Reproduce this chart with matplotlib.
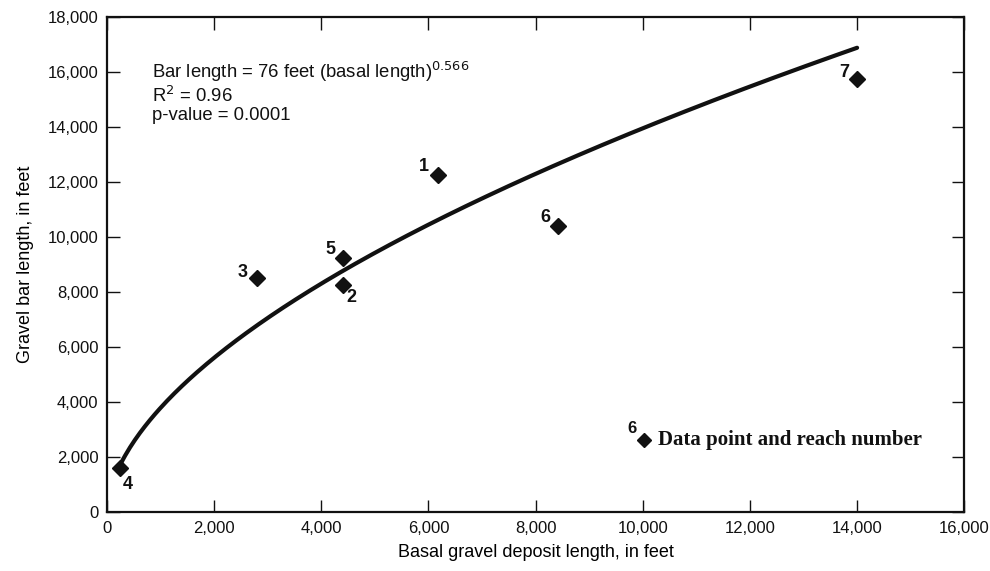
import numpy as np
import matplotlib.pyplot as plt
from matplotlib.ticker import FuncFormatter

# reach data points
reach = ['4', '3', '5', '2', '1', '6', '7']
basal_len = [240, 2800, 4400, 4400, 6180, 8420, 14000]
bar_len = [1620, 8530, 9230, 8260, 12270, 10420, 15750]
# label offsets in points
lab_dx = [6, -10, -9, 6, -10, -9, -9]
lab_dy = [-12, 4, 6, -9, 6, 6, 5]

# fitted power law, from the equation on the chart
coef = 76
expo = 0.566
x_fit = np.linspace(200, 14000, 300)
y_fit = coef * x_fit ** expo

plt.rcParams['font.family'] = ['Liberation Sans Narrow', 'Liberation Sans', 'DejaVu Sans']

fig = plt.figure(figsize=(9.9, 5.71), dpi=100)
ax = fig.add_axes([0.108, 0.103, 0.866, 0.867])

ax.plot(x_fit, y_fit, color='#111111', lw=3, solid_capstyle='round')
ax.plot(basal_len, bar_len, 'D', color='#111111', ms=8, ls='none')
for r, x, y, dx, dy in zip(reach, basal_len, bar_len, lab_dx, lab_dy):
    ax.annotate(r, (x, y), xytext=(dx, dy), textcoords='offset points',
                fontsize=13, fontweight='bold', ha='center', va='center', color='#111111')

ax.set_xlim(0, 16000)
ax.set_ylim(0, 18000)
ax.set_xticks(np.arange(0, 16001, 2000))
ax.set_yticks(np.arange(0, 18001, 2000))
fmt = FuncFormatter(lambda v, p: f'{int(v):,}')
ax.xaxis.set_major_formatter(fmt)
ax.yaxis.set_major_formatter(fmt)
ax.tick_params(direction='in', length=9, width=1, labelsize=12, top=True, right=True,
               colors='#111111', pad=6)
for s in ax.spines.values():
    s.set_linewidth(1.6)
    s.set_color('#111111')

ax.set_xlabel('Basal gravel deposit length, in feet', fontsize=13, labelpad=6)
ax.set_ylabel('Gravel bar length, in feet', fontsize=13, labelpad=10)

ax.text(0.0525, 0.913, 'Bar length = 76 feet (basal length)$^{0.566}$\nR$^2$ = 0.96\np-value = 0.0001',
        transform=ax.transAxes, fontsize=13.3, va='top', ha='left', linespacing=1.1,
        color='#111111')

# explanation key
ax.plot([0.626], [0.146], 'D', transform=ax.transAxes, color='#111111', ms=7)
ax.text(0.613, 0.17, '6', transform=ax.transAxes, fontsize=12, fontweight='bold',
        ha='center', va='center', color='#111111')
ax.text(0.643, 0.146, 'Data point and reach number', transform=ax.transAxes,
        family='Liberation Serif', fontweight='bold', fontsize=15, va='center', color='#111111')

fig.savefig('out.png', dpi=100)
